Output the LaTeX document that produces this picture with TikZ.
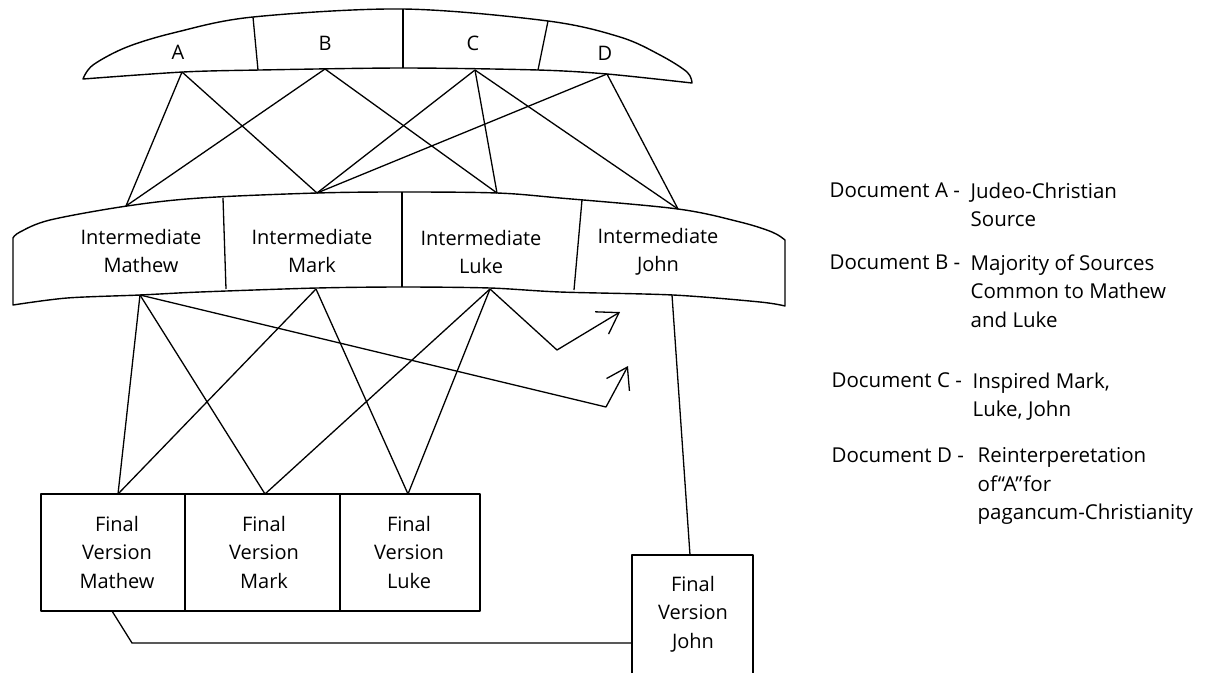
\documentclass[tikz,border=0pt]{standalone}
\usepackage{fontspec}
\setmainfont{Open Sans}
\usetikzlibrary{arrows.meta}
\begin{document}
\begin{tikzpicture}[x=1pt,y=-1pt,line width=1.3pt,line join=round,
  lbl/.style={font=\fontsize{20}{28.5}\selectfont,align=center,inner sep=0pt},
  leg/.style={font=\fontsize{20.5}{28.5}\selectfont,align=left,inner sep=0pt,anchor=base west},
  conn/.style={draw,line width=1.3pt},
  arr/.style={-{Straight Barb[length=20pt,width=26pt,line width=1.3pt]}}]
\useasboundingbox (0,0) rectangle (1211,673);

% ---- top source arc ----
\draw[line width=1.4pt] plot[smooth,tension=0.55] coordinates {(83,79) (93,65) (127,47) (177,32) (253,17) (403,9) (548,21) (620,37) (660,55) (687,72) (692,83)}
  -- plot[smooth,tension=0.5] coordinates {(692,83) (607,74) (538,70) (403,68) (260,70) (183,72) (83,79)} -- cycle;
\draw (253,17) -- (258,70);
\draw (403,9) -- (403,68);
\draw (548,21) -- (538,70);
\node[lbl] (A) at (178,52) {A};
\node[lbl] (B) at (325,43) {B};
\node[lbl] (C) at (473,43) {C};
\node[lbl] (D) at (605,53) {D};

% ---- intermediate band ----
\draw[line width=1.4pt] plot[smooth,tension=0.55] coordinates {(13,238) (20,232) (50,220) (127,206) (200,198) (317,193) (403,192) (497,193) (560,198) (678,209) (740,222) (772,232) (785,240)}
  -- (785,306)
  -- plot[smooth,tension=0.5] coordinates {(785,306) (760,302) (673,295) (560,292) (490,288) (403,287) (317,288) (200,292) (140,295) (67,298) (13,305)} -- cycle;
\draw (223,198) -- (226,289);
\draw (402,192) -- (402,287);
\draw (582,200) -- (574,290);
\node[lbl] (imat) at (141,251) {Intermediate\\Mathew};
\node[lbl] (imar) at (312,251) {Intermediate\\Mark};
\node[lbl] (iluk) at (481,252) {Intermediate\\Luke};
\node[lbl] (ijoh) at (658,252) {Intermediate\\John};

% ---- final boxes ----
\draw (41,494) rectangle (480,611);
\draw (185,494) -- (185,611);
\draw (340,494) -- (340,611);
\draw (632,673) -- (632,555) -- (753,555) -- (753,673);
\node[lbl] (fmat) at (117,552) {Final\\Version\\Mathew};
\node[lbl] (fmar) at (264,552) {Final\\Version\\Mark};
\node[lbl] (fluk) at (409,552) {Final\\Version\\Luke};
\node[lbl] (fjoh) at (693,614) {Final\\Version\\John};

% ---- attachment points ----
\coordinate (sA) at (182,72);
\coordinate (sB) at (325,69);
\coordinate (sC) at (475,70);
\coordinate (sD) at (607,74);
\coordinate (imT) at (126,206);
\coordinate (mkT) at (317,193);
\coordinate (lkT) at (497,193);
\coordinate (jnT) at (678,209);
\coordinate (imB) at (140,295);
\coordinate (mkB) at (316,289);
\coordinate (lkB) at (490,289);
\coordinate (jnB) at (672,295);
\coordinate (fmT) at (118,494);
\coordinate (fkT) at (265,494);
\coordinate (flT) at (408,494);
\coordinate (fjT) at (690,555);
\coordinate (fmB) at (112,611);
\coordinate (bend) at (132,643);
\coordinate (fjL) at (632,643);
\coordinate (v1) at (606,407);
\coordinate (t1) at (628,366);
\coordinate (v2) at (557,350);
\coordinate (t2) at (620,312);

% ---- connectors top ----
\draw[conn] (sA) -- (imT);
\draw[conn] (sA) -- (mkT);
\draw[conn] (sB) -- (imT);
\draw[conn] (sB) -- (lkT);
\draw[conn] (sC) -- (mkT);
\draw[conn] (sC) -- (lkT);
\draw[conn] (sC) -- (jnT);
\draw[conn] (sD) -- (mkT);
\draw[conn] (sD) -- (jnT);

% ---- connectors bottom ----
\draw[conn] (imB) -- (fmT);
\draw[conn] (imB) -- (fkT);
\draw[conn,arr] (imB) -- (v1) -- (t1);
\draw[conn] (mkB) -- (fmT);
\draw[conn] (mkB) -- (flT);
\draw[conn] (lkB) -- (fkT);
\draw[conn] (lkB) -- (flT);
\draw[conn,arr] (lkB) -- (v2) -- (t2);
\draw[conn] (jnB) -- (fjT);
\draw[conn] (fmB) -- (bend) -- (fjL);

% ---- legend ----
\node[leg] (la) at (829,197) {Document A -};
\node[leg,anchor=north west] (la2) at (970,182) {Judeo-Christian\\Source};
\node[leg] (lb) at (829,269) {Document B -};
\node[leg,anchor=north west] (lb2) at (970,254) {Majority of Sources\\Common to Mathew\\and Luke};
\node[leg] (lc) at (831,387) {Document C -};
\node[leg,anchor=north west] (lc2) at (972,372) {Inspired Mark,\\Luke, John};
\node[leg] (ld) at (831,462) {Document D -};
\node[leg,anchor=north west] (ld2) at (977,447) {Reinterperetation\\of\kern1pt“A”\kern1pt for\\pagancum-Christianity};
\end{tikzpicture}
\end{document}
